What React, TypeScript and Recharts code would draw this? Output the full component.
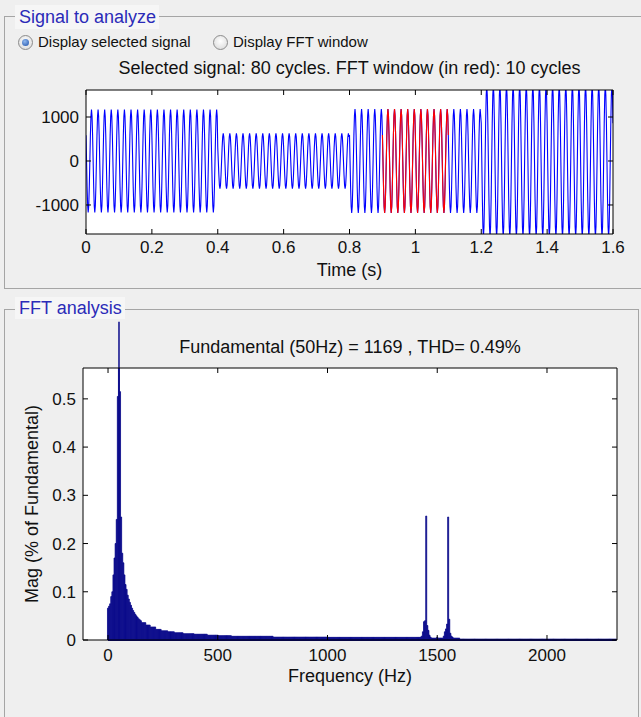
import React from 'react';
import { ComposedChart, Line, Bar, XAxis, YAxis, CartesianGrid, ReferenceLine } from 'recharts';

const FONT = '"Liberation Sans", Arial, Helvetica, sans-serif';

// ---------- Signal to analyze (top) ----------
const timeTicks = [0, 0.2, 0.4, 0.6, 0.8, 1, 1.2, 1.4, 1.6];
const timeDomain = [0, 1.6];
const signalTicks = [-1000, 0, 1000];
const signalDomain = [-1660, 1614];
const segmentStartS = [0, 0.4, 0.8, 1.2];
const segmentAmplitude = [1170, 630, 1180, 1720];
// one 20 ms cycle of the drawn waveform, normalised to its peak
const cycleShape = [0.5, 0, -0.5, -0.87, -1, -0.87, -0.5, 0, 0.5, 0.87, 1, 0.87];
const totalCycles = 80;
const fundamentalHz = 50;
const fftWindowS = [0.9, 1.1];

// ---------- FFT analysis (bottom) ----------
const freqTicks = [0, 500, 1000, 1500, 2000];
const freqDomain = [-114, 2319];
const magTicks = [0, 0.1, 0.2, 0.3, 0.4, 0.5];
const magDomain = [0, 0.564];
const binHz = 5;
const maxBinHz = 2315;
// 0 .. 150 Hz, one value per 5 Hz bin (50 Hz = fundamental = 100 %)
const lowBandMag = [
  0.066, 0.07, 0.075, 0.09, 0.1, 0.135, 0.17, 0.2, 0.25, 0.505,
  100, 0.515, 0.255, 0.18, 0.16, 0.135, 0.115, 0.105, 0.093, 0.085,
  0.078, 0.072, 0.066, 0.061, 0.057, 0.053, 0.05, 0.047, 0.044, 0.042, 0.04,
];
// sidebands around 1450 Hz and 1550 Hz: [Hz, mag]
const sidebandBins = [
  [1425, 0.006], [1430, 0.008], [1435, 0.017], [1440, 0.038], [1445, 0.04],
  [1450, 0.257], [1455, 0.03], [1460, 0.02], [1465, 0.01], [1470, 0.006],
  [1500, 0.006],
  [1530, 0.008], [1535, 0.017], [1540, 0.023], [1545, 0.033], [1550, 0.255],
  [1555, 0.043], [1560, 0.014], [1565, 0.008], [1570, 0.006],
];
// tail plateaus: [fromHz, toHz, mag]
const tailRuns = [
  [155, 170, 0.036], [175, 190, 0.031], [195, 215, 0.027], [220, 240, 0.022],
  [245, 270, 0.019], [275, 300, 0.017], [305, 340, 0.015], [345, 390, 0.013],
  [395, 450, 0.012], [455, 500, 0.01], [505, 560, 0.009], [565, 750, 0.0077],
  [755, 1000, 0.006], [1005, 1420, 0.0055], [1475, 1525, 0.004],
  [1575, 1600, 0.004], [1605, 2315, 0.002],
];
const fundamentalVisibleTop = 0.66;

// ---------- build series ----------
const signalData: { t: number; v: number; w: number | null }[] = [];
for (let c = 0; c < totalCycles; c++) {
  const t0 = c / fundamentalHz;
  let seg = 0;
  segmentStartS.forEach((s, i) => { if (t0 + 1e-9 >= s) seg = i; });
  const amp = segmentAmplitude[seg];
  cycleShape.forEach((s, k) => {
    const t = t0 + k / (cycleShape.length * fundamentalHz);
    const v = s * amp;
    const inWin = t >= fftWindowS[0] - 1e-9 && t <= fftWindowS[1] + 1e-9;
    signalData.push({ t, v, w: inWin ? v : null });
  });
}
signalData.push({ t: totalCycles / fundamentalHz, v: cycleShape[0] * segmentAmplitude[segmentAmplitude.length - 1], w: null });

const spectrumData: { hz: number; mag: number }[] = [];
for (let f = 0; f <= maxBinHz; f += binHz) {
  const i = Math.round(f / binHz);
  let mag = 0;
  if (i < lowBandMag.length) mag = lowBandMag[i];
  else {
    const sb = sidebandBins.find((b) => b[0] === f);
    if (sb) mag = sb[1];
    else {
      const run = tailRuns.find((r) => f >= r[0] && f <= r[1]);
      mag = run ? run[2] : 0;
    }
  }
  spectrumData.push({ hz: f, mag });
}

// ---------- tick renderers (MATLAB style: ticks inside the box) ----------
const tickTextStyle = { fontFamily: FONT, fontSize: 17, fill: '#111' };
const fmtNum = (v: number) => String(v);

const bottomTick = (dy: number) => (props: any) => {
  const { x, y, payload } = props;
  return (
    <g>
      <line x1={x} x2={x} y1={y} y2={y - 5} stroke="#000" />
      <text x={x} y={y + dy} textAnchor="middle" {...tickTextStyle}>{fmtNum(payload.value)}</text>
    </g>
  );
};
const topTick = (props: any) => {
  const { x, y } = props;
  return <line x1={x} x2={x} y1={y} y2={y + 5} stroke="#000" />;
};
const leftTick = (props: any) => {
  const { x, y, payload } = props;
  return (
    <g>
      <line x1={x} x2={x + 5} y1={y} y2={y} stroke="#000" />
      <text x={x - 7} y={y + 6} textAnchor="end" {...tickTextStyle}>{fmtNum(payload.value)}</text>
    </g>
  );
};
const rightTick = (props: any) => {
  const { x, y } = props;
  return <line x1={x} x2={x - 5} y1={y} y2={y} stroke="#000" />;
};

const Radio = ({ left, top, checked }: { left: number; top: number; checked: boolean }) => (
  <div style={{
    position: 'absolute', left, top, width: 13, height: 13, borderRadius: '50%',
    border: '1px solid #8c8c8c', background: 'radial-gradient(circle at 50% 40%, #ffffff, #d6d6d6)',
  }}>
    {checked && (
      <div style={{
        position: 'absolute', left: 3, top: 3, width: 7, height: 7, borderRadius: '50%',
        background: 'radial-gradient(circle at 40% 35%, #8fb8ef, #1d4fa8)',
      }} />
    )}
  </div>
);

export default function App() {
  const blue = '#2b2bb8';
  const navy = '#0b0b8b';
  return (
    <div style={{ position: 'absolute', left: 0, top: 0, width: 641, height: 717, background: '#efefef', overflow: 'hidden', fontFamily: FONT, color: '#111' }}>
      {/* Panel 1 */}
      <div style={{ position: 'absolute', left: 4, top: 16, width: 660, height: 271, border: '1px solid #a5a5a5' }} />
      <div style={{ position: 'absolute', left: 15, top: 5, height: 24, padding: '0 3px 0 4px', background: '#f6f6f6', color: blue, fontSize: 18, lineHeight: '24px', whiteSpace: 'nowrap' }}>Signal to analyze</div>
      <Radio left={18} top={35} checked={true} />
      <div style={{ position: 'absolute', left: 38, top: 33, fontSize: 15, lineHeight: '18px', whiteSpace: 'nowrap' }}>Display selected signal</div>
      <Radio left={213} top={35} checked={false} />
      <div style={{ position: 'absolute', left: 233, top: 33, fontSize: 15, lineHeight: '18px', whiteSpace: 'nowrap' }}>Display FFT window</div>
      <div style={{ position: 'absolute', left: 86, top: 57, width: 527, textAlign: 'center', fontSize: 18, lineHeight: '22px', whiteSpace: 'nowrap' }}>Selected signal: 80 cycles. FFT window (in red): 10 cycles</div>

      <div style={{ position: 'absolute', left: 0, top: 80 }}>
        <ComposedChart width={641} height={206} data={signalData} margin={{ top: 9, right: 27, bottom: 0, left: 0 }}>
          <CartesianGrid horizontal={false} vertical={false} fill="#ffffff" />
          <XAxis dataKey="t" type="number" domain={timeDomain} ticks={timeTicks} interval={0} allowDataOverflow
            height={52} tickSize={0} tickMargin={0} tickLine={false} axisLine={{ stroke: '#000' }} tick={bottomTick(19)}
            label={{ value: 'Time (s)', position: 'insideBottom', offset: 10, fontSize: 18, fontFamily: FONT, fill: '#111' }} />
          <XAxis xAxisId="top" orientation="top" dataKey="t" type="number" domain={timeDomain} ticks={timeTicks} interval={0} allowDataOverflow
            height={1} tickSize={0} tickMargin={0} tickLine={false} axisLine={{ stroke: '#000' }} tick={topTick} />
          <YAxis type="number" domain={signalDomain} ticks={signalTicks} interval={0} allowDataOverflow
            width={86} tickSize={0} tickMargin={0} tickLine={false} axisLine={{ stroke: '#000' }} tick={leftTick} />
          <YAxis yAxisId="right" orientation="right" type="number" domain={signalDomain} ticks={signalTicks} interval={0} allowDataOverflow
            width={1} tickSize={0} tickMargin={0} tickLine={false} axisLine={{ stroke: '#000' }} tick={rightTick} />
          <Line dataKey="v" type="linear" stroke="#0000ff" strokeWidth={1.1} dot={false} isAnimationActive={false} />
          <Line dataKey="w" type="linear" stroke="#ff0000" strokeWidth={1.1} dot={false} connectNulls={false} isAnimationActive={false} />
        </ComposedChart>
      </div>

      {/* Panel 2 */}
      <div style={{ position: 'absolute', left: 4, top: 309, width: 633, height: 420, border: '1px solid #a5a5a5' }} />
      <div style={{ position: 'absolute', left: 15, top: 297, height: 22, padding: '0 3px 0 4px', background: '#f6f6f6', color: blue, fontSize: 18, lineHeight: '22px', whiteSpace: 'nowrap' }}>FFT analysis</div>
      <div style={{ position: 'absolute', left: 83, top: 336, width: 534, textAlign: 'center', fontSize: 18, lineHeight: '22px', whiteSpace: 'nowrap' }}>Fundamental (50Hz) = 1169 , THD= 0.49%</div>

      <div style={{ position: 'absolute', left: 0, top: 300 }}>
        <ComposedChart width={641} height={400} data={spectrumData} margin={{ top: 67, right: 23, bottom: 0, left: 0 }}>
          <CartesianGrid horizontal={false} vertical={false} fill="#ffffff" />
          <XAxis dataKey="hz" type="number" domain={freqDomain} ticks={freqTicks} interval={0} allowDataOverflow
            height={60} tickSize={0} tickMargin={0} tickLine={false} axisLine={{ stroke: '#000' }} tick={bottomTick(21)}
            label={{ value: 'Frequency (Hz)', position: 'insideBottom', offset: 18, fontSize: 18, fontFamily: FONT, fill: '#111' }} />
          <XAxis xAxisId="top" orientation="top" dataKey="hz" type="number" domain={freqDomain} ticks={freqTicks} interval={0} allowDataOverflow
            height={1} tickSize={0} tickMargin={0} tickLine={false} axisLine={{ stroke: '#000' }} tick={topTick} />
          <YAxis type="number" domain={magDomain} ticks={magTicks} interval={0} allowDataOverflow
            width={83} tickSize={0} tickMargin={0} tickLine={false} axisLine={{ stroke: '#000' }} tick={leftTick}
            label={{
              content: () => (
                <text x={32} y={204} transform="rotate(-90 32 204)" textAnchor="middle" dominantBaseline="central"
                  fontFamily={FONT} fontSize={18} fill="#111">Mag (% of Fundamental)</text>
              ),
            }} />
          <YAxis yAxisId="right" orientation="right" type="number" domain={magDomain} ticks={magTicks} interval={0} allowDataOverflow
            width={1} tickSize={0} tickMargin={0} tickLine={false} axisLine={{ stroke: '#000' }} tick={rightTick} />
          <Bar dataKey="mag" fill={navy} stroke={navy} strokeWidth={0.8} barSize={1.7} isAnimationActive={false} />
          <ReferenceLine segment={[{ x: fundamentalHz, y: 0 }, { x: fundamentalHz, y: fundamentalVisibleTop }]} ifOverflow="visible" stroke={navy} strokeWidth={1.5} />
          <ReferenceLine segment={[{ x: 0, y: 0 }, { x: maxBinHz, y: 0 }]} ifOverflow="visible" stroke={navy} strokeWidth={2} />
        </ComposedChart>
      </div>
    </div>
  );
}
